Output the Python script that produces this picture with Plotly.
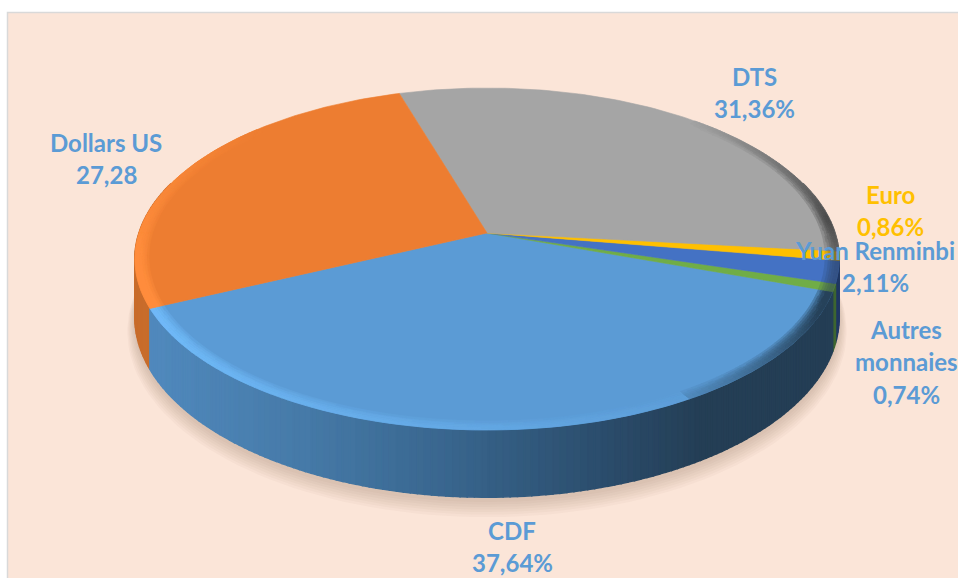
import math
import plotly.graph_objects as go

# Data
categories = ["CDF", "Autres monnaies", "Yuan Renminbi", "Euro", "DTS", "Dollars US"]
values = [37.64, 0.74, 2.11, 0.86, 31.36, 27.28]
colors = ["#5b9bd5", "#70ad47", "#4472c4", "#ffc000", "#a5a5a5", "#ed7d31"]
label_values = ["37,64%", "0,74%", "2,11%", "0,86%", "31,36%", "27,28"]
label_lines = [["CDF"], ["Autres", "monnaies"], ["Yuan Renminbi"], ["Euro"], ["DTS"], ["Dollars US"]]
label_colors = ["#5b9bd5", "#5b9bd5", "#5b9bd5", "#ffc000", "#5b9bd5", "#5b9bd5"]
label_x = [512, 906, 875, 890, 754, 106]
label_y0 = [530, 329, 250, 194, 76, 142]

# Projection of the tilted disk
CX, CY, A, B, K, DEPTH, START = 487, 233, 348, 167, 0.152, 57, 205
total = sum(values)


def project(deg, r=1.0, drop=0.0):
    t = math.radians(deg)
    u, v = r * math.cos(t), r * math.sin(t)
    w = 1 + K * v
    return CX + A * u / w, CY - B * v / w + drop / w


def hex2rgb(h):
    return tuple(int(h[i:i + 2], 16) for i in (1, 3, 5))


def mix(c1, c2, s):
    s = max(0.0, min(1.0, s))
    a, b = hex2rgb(c1), hex2rgb(c2)
    return "#%02x%02x%02x" % tuple(min(255, round((a[i] + (b[i] - a[i]) * s) / 2) * 2) for i in range(3))


def ramp(x, stops):
    if x <= stops[0][0]:
        return stops[0][1]
    for (x0, c0), (x1, c1) in zip(stops, stops[1:]):
        if x <= x1:
            return mix(c0, c1, (x - x0) / (x1 - x0))
    return stops[-1][1]


# slices: (index, start angle, end angle), running through the bottom counter-clockwise
slices = []
angle = START
for i, val in enumerate(values):
    sweep = 360 * val / total
    slices.append((i, angle, angle + sweep))
    angle += sweep


def wall_color(i, x):
    if i == 0:
        return ramp(x, [(150, "#5089bd"), (300, "#467aa8"), (450, "#38658d"), (600, "#2b4d6c"), (700, "#243e55")])
    if i == 1:
        return "#3d6530"
    if i == 2:
        return "#1f3763"
    if i == 3:
        return "#8a6a00"
    if i == 4:
        return "#5a5a5a"
    return "#c86c2b"


def rim_target(i, deg):
    deg = deg % 360
    if i == 0:
        if deg < 300:
            return "#6fb9f7", 1.1 - (deg - 205) / 95
        return "#26425a", (deg - 292) / 40
    if i == 5:
        return "#ff8d3c", (deg - 135) / 50
    if i == 4:
        d = deg if deg < 180 else deg - 360
        return "#4a4a4a", (1 - abs(d - 5) / 45) * 1.0
    return "#26374f", 0.55


groups = {}


def add_poly(layer, color, pts):
    xs, ys = groups.setdefault((layer, color), ([], []))
    xs.extend([p[0] for p in pts] + [pts[0][0], None])
    ys.extend([p[1] for p in pts] + [pts[0][1], None])


STEP = 1.0
# walls: far parts first, so nearer slices sit on top
for i, a0, a1 in sorted(slices, key=lambda s: -math.sin(math.radians((s[1] + s[2]) / 2))):
    n = max(1, int((a1 - a0) / STEP))
    for j in range(n):
        d0 = a0 + (a1 - a0) * j / n
        d1 = a0 + (a1 - a0) * (j + 1) / n
        if math.sin(math.radians(d0)) > 0.3 and math.sin(math.radians(d1)) > 0.3:
            continue
        p0, p1 = project(d0), project(d1)
        pts = [p0, p1, project(d1, drop=DEPTH), project(d0, drop=DEPTH)]
        add_poly(1 + (0 if i == 5 else 1), wall_color(i, p0[0]), pts)

# edge bands on the top face
BANDS = 6
for i, a0, a1 in slices:
    n = max(1, int((a1 - a0) / STEP))
    for j in range(n):
        d0 = a0 + (a1 - a0) * j / n
        d1 = a0 + (a1 - a0) * (j + 1) / n
        target, strength = rim_target(i, (d0 + d1) / 2)
        for b in range(BANDS):
            r0 = 1.0 - b * 0.0065
            r1 = r0 - 0.0065
            s = strength * (1 - (b / BANDS) ** 2)
            if s <= 0.03:
                continue
            c = mix(colors[i], target, s)
            add_poly(4, c, [project(d0, r0), project(d1, r0), project(d1, r1), project(d0, r1)])

fig = go.Figure()

# soft shadow under the pie
for s in range(7):
    grow = 1 + 0.003 * (7 - s)
    pts = [project(d, grow, DEPTH + 2 + 1.5 * (7 - s)) for d in range(0, 360, 2)]
    fig.add_trace(go.Scatter(x=[p[0] for p in pts], y=[p[1] for p in pts], mode="lines",
                             fill="toself", fillcolor="rgba(100,85,70,0.035)", line=dict(width=0),
                             hoverinfo="skip", showlegend=False))


def flush(layer):
    for (ly, c), (xs, ys) in groups.items():
        if ly == layer:
            fig.add_trace(go.Scatter(x=xs, y=ys, mode="lines", fill="toself", fillcolor=c,
                                     line=dict(color=c, width=1.6 if layer < 4 else 0.7),
                                     hoverinfo="skip", showlegend=False))


flush(1)
flush(2)

# top-face slices
for i, a0, a1 in slices:
    n = max(2, int((a1 - a0) / STEP))
    pts = [(CX, CY)] + [project(a0 + (a1 - a0) * j / n) for j in range(n + 1)]
    fig.add_trace(go.Scatter(x=[p[0] for p in pts] + [CX], y=[p[1] for p in pts] + [CY], mode="lines",
                             fill="toself", fillcolor=colors[i], line=dict(color=colors[i], width=0.6),
                             name=categories[i], hoverinfo="name", showlegend=False))
flush(4)

# text labels
annotations = []
for i in range(len(categories)):
    lines = label_lines[i] + [label_values[i]]
    for n, line in enumerate(lines):
        annotations.append(dict(x=label_x[i], y=label_y0[i] + n * 32.5, xref="x", yref="y", text="<b>%s</b>" % line,
                                showarrow=False, xanchor="center", yanchor="middle",
                                font=dict(family="Lato", size=24, color=label_colors[i])))

fig.update_layout(
    width=958, height=578, margin=dict(l=0, r=0, t=0, b=0), autosize=False,
    paper_bgcolor="#ffffff", plot_bgcolor="#ffffff", showlegend=False,
    xaxis=dict(range=[0, 958], visible=False, fixedrange=True),
    yaxis=dict(range=[578, 0], visible=False, fixedrange=True),
    annotations=annotations,
    shapes=[dict(type="rect", xref="x", yref="y", x0=7.5, y0=12.5, x1=970, y1=590, layer="below",
                 fillcolor="#fbe5d8", line=dict(color="#d9d9d9", width=1.5))],
)
fig.write_html("out.html", config={"displayModeBar": False},
               post_script="document.body.style.margin='0';document.body.style.overflow='hidden';")
